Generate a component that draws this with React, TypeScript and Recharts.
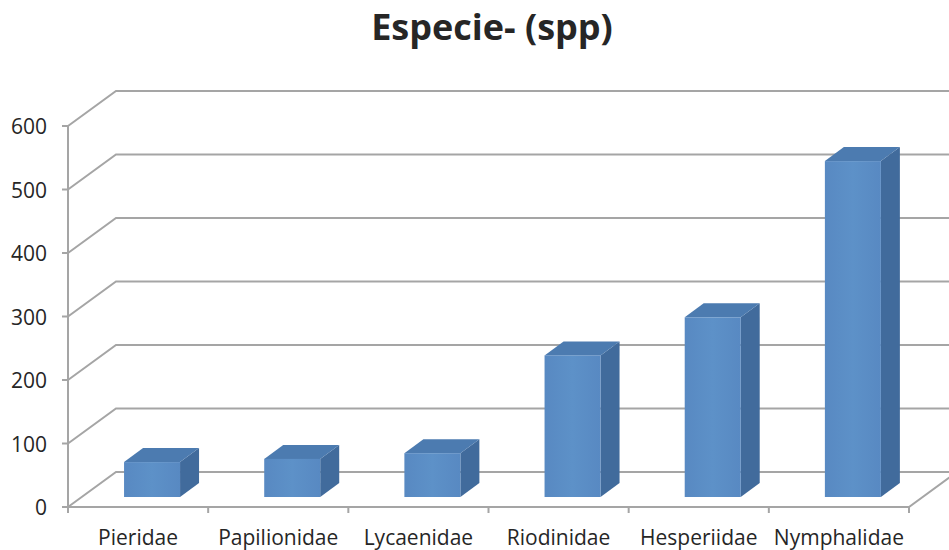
import { Bar, BarChart, CartesianGrid, XAxis, YAxis } from "recharts";

const families = [
  "Pieridae",
  "Papilionidae",
  "Lycaenidae",
  "Riodinidae",
  "Hesperiidae",
  "Nymphalidae",
];
const species = [55, 60, 69, 223, 283, 529];
const yTicks = [0, 100, 200, 300, 400, 500, 600];

const data = families.map((name, i) => ({ name, spp: species[i] }));

// layout (the chart runs a bit past the right edge, like the original)
const CHART_W = 1000;
const CHART_H = 550;
const LEFT = 116; // back wall starts here
const RIGHT = 43;
const TOP = 91;
const BOTTOM = 78;
const DX = 48; // depth of the floor / side wall
const DY = 35;
const BAND = (CHART_W - LEFT - RIGHT) / families.length;
const FONT = "'Open Sans', 'Liberation Sans', sans-serif";
const GRID = "#a5a5a5";
const TEXT = "#262626";

// 3d box, front face sits a bit behind the front edge of the floor
function Bar3D(props: any) {
  const { x, y, width, height } = props;
  if (height == null || width == null) return null;
  const fx = x - 34;
  const fy = y + 25;
  const dx = 19;
  const dy = 14;
  return (
    <g>
      <polygon
        points={`${fx + width},${fy} ${fx + width + dx},${fy - dy} ${fx + width + dx},${fy + height - dy} ${fx + width},${fy + height}`}
        fill="#416b9c"
      />
      <polygon
        points={`${fx},${fy} ${fx + dx},${fy - dy} ${fx + width + dx},${fy - dy} ${fx + width},${fy}`}
        fill="#4c7bb0"
      />
      <rect x={fx} y={fy} width={width} height={height} fill="url(#frontFace)" />
    </g>
  );
}

function GridLine(props: any) {
  const { x1, x2, y1, y, height } = props;
  const isFloor = Math.abs(y1 - (y + height)) < 1;
  return (
    <g>
      <polyline
        points={`${x1 - DX},${y1 + DY} ${x1},${y1} ${x2},${y1}`}
        fill="none"
        stroke={GRID}
        strokeWidth={2}
      />
      <line x1={x1 - DX - 6} y1={y1 + DY} x2={x1 - DX} y2={y1 + DY} stroke={GRID} strokeWidth={2} />
      {isFloor && (
        <polyline
          points={`${x1 - DX},${y + DY} ${x1 - DX},${y1 + DY} ${x2 - DX},${y1 + DY} ${x2},${y1}`}
          fill="none"
          stroke={GRID}
          strokeWidth={2}
        />
      )}
    </g>
  );
}

function YTick(props: any) {
  const { y, payload } = props;
  return (
    <text
      x={LEFT - DX - 21}
      y={y + DY}
      textAnchor="end"
      dominantBaseline="central"
      fontFamily={FONT}
      fontSize={21}
      fill={TEXT}
    >
      {payload.value}
    </text>
  );
}

function XTick(props: any) {
  const { x, payload, index } = props;
  const fx = x - DX;
  const fy = CHART_H - BOTTOM + DY;
  return (
    <g>
      <line x1={fx - BAND / 2} y1={fy} x2={fx - BAND / 2} y2={fy + 6} stroke={GRID} strokeWidth={2} />
      {index === families.length - 1 && (
        <line x1={fx + BAND / 2} y1={fy} x2={fx + BAND / 2} y2={fy + 6} stroke={GRID} strokeWidth={2} />
      )}
      <text
        x={fx}
        y={fy + 30}
        textAnchor="middle"
        dominantBaseline="central"
        fontFamily={FONT}
        fontSize={21}
        fill={TEXT}
      >
        {payload.value}
      </text>
    </g>
  );
}

export default function App() {
  return (
    <div
      style={{
        position: "fixed",
        left: 0,
        top: 0,
        width: 949,
        height: 550,
        overflow: "hidden",
        background: "#fff",
      }}
    >
      <div
        style={{
          position: "absolute",
          top: 2,
          left: 0,
          width: 984,
          textAlign: "center",
          fontFamily: FONT,
          fontWeight: 700,
          fontSize: 36,
          color: TEXT,
        }}
      >
        Especie- (spp)
      </div>
      <BarChart
        width={CHART_W}
        height={CHART_H}
        data={data}
        margin={{ top: TOP, right: RIGHT, left: 0, bottom: 0 }}
        barCategoryGap="30%"
      >
        <defs>
          <linearGradient id="frontFace" x1="0" y1="0" x2="1" y2="0">
            <stop offset="0%" stopColor="#5889c2" />
            <stop offset="50%" stopColor="#5d91c8" />
            <stop offset="100%" stopColor="#5889c2" />
          </linearGradient>
        </defs>
        <CartesianGrid vertical={false} horizontal={GridLine} />
        <XAxis
          dataKey="name"
          height={BOTTOM}
          axisLine={false}
          tickLine={false}
          interval={0}
          tick={XTick}
        />
        <YAxis
          width={LEFT}
          domain={[0, 600]}
          ticks={yTicks}
          axisLine={false}
          tickLine={false}
          tick={YTick}
        />
        <Bar dataKey="spp" shape={Bar3D} isAnimationActive={false} />
      </BarChart>
    </div>
  );
}
